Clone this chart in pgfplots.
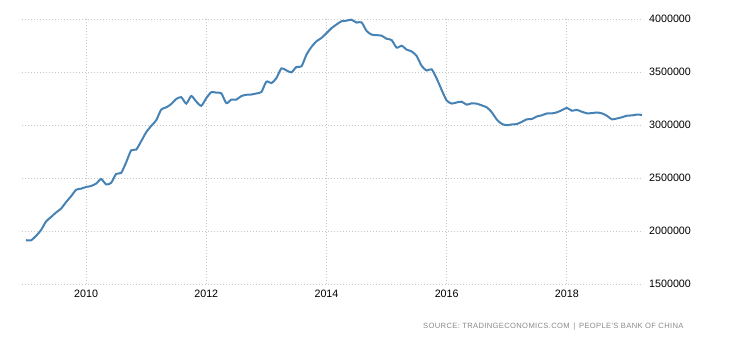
\documentclass[border=0pt]{standalone}
\usepackage{pgfplots}
\pgfplotsset{compat=1.18}
\usepackage{pgfplotstable}
\usepackage{fontspec}
\setmainfont{Liberation Sans}
\newfontfamily\srcfont[LetterSpace=4.5]{Liberation Sans}
\definecolor{lineblue}{HTML}{4682B4}
\definecolor{gridgray}{HTML}{C8C8C8}
\definecolor{srcgray}{HTML}{8A8A8A}
% month index: 0 = Jan 2009
\pgfplotstableread{
idx val
0 1913456
1 1912060
2 1953741
3 2008841
4 2089492
5 2131606
6 2174956
7 2210829
8 2272595
9 2327720
10 2388838
11 2399152
12 2415221
13 2424590
14 2447084
15 2490476
16 2439540
17 2454275
18 2538579
19 2547803
20 2648303
21 2760900
22 2767836
23 2847338
24 2931674
25 2991380
26 3044671
27 3145716
28 3166211
29 3197491
30 3245283
31 3262505
32 3201683
33 3273786
34 3220982
35 3181148
36 3253647
37 3309484
38 3304971
39 3298966
40 3206092
41 3240005
42 3239772
43 3272958
44 3285075
45 3287437
46 3297624
47 3311589
48 3409517
49 3395422
50 3442649
51 3534486
52 3514804
53 3496686
54 3547781
55 3553043
56 3662662
57 3736654
58 3789533
59 3821315
60 3866393
61 3913739
62 3948097
63 3978835
64 3983890
65 3993213
66 3966256
67 3968839
68 3887700
69 3852919
70 3847358
71 3843018
72 3813414
73 3801503
74 3730038
75 3748181
76 3711130
77 3693838
78 3651310
79 3557381
80 3514120
81 3525507
82 3438356
83 3330362
84 3230890
85 3202321
86 3212580
87 3219668
88 3191736
89 3205162
90 3201057
91 3185167
92 3166382
93 3120655
94 3051598
95 3010517
96 2998204
97 3005124
98 3009088
99 3029533
100 3053567
101 3056789
102 3080720
103 3091527
104 3108510
105 3109213
106 3119282
107 3139949
108 3161462
109 3134482
110 3142822
111 3124851
112 3110621
113 3112129
114 3117945
115 3109716
116 3087025
117 3053098
118 3061695
119 3072712
120 3087924
121 3090180
122 3098763
123 3094953
}\reserves
\begin{document}
\begin{tikzpicture}
\path[use as bounding box] (0,0) rectangle (730bp,340bp);
\begin{axis}[
  at={(22bp,56bp)}, anchor=south west,
  width=621bp, height=265bp, scale only axis,
  xmin=-0.8, xmax=123.2,
  ymin=1500000, ymax=4000000,
  xtick={12,36,60,84,108},
  xticklabels={2010,2012,2014,2016,2018},
  ytick={1500000,2000000,2500000,3000000,3500000,4000000},
  yticklabels={1500000,2000000,2500000,3000000,3500000,4000000},
  yticklabel pos=right,
  scaled y ticks=false,
  axis line style={draw=none},
  major tick length=0pt,
  tick style={draw=none},
  grid=major,
  major grid style={gridgray, line width=0.8bp, dash pattern=on 1bp off 2bp},
  ticklabel style={font=\fontsize{10.7bp}{12bp}\selectfont, text=black},
  xticklabel style={inner sep=0pt, anchor=north, yshift=-6bp},
  yticklabel style={inner sep=0pt, anchor=west, xshift=6bp},
  clip=false,
]
\addplot[lineblue, line width=2bp, smooth, tension=0.4] table[x=idx, y=val] {\reserves};
\end{axis}
\node[anchor=base west, inner sep=0pt, text=srcgray, font=\srcfont\fontsize{7.6bp}{9bp}\selectfont] at (423bp,12bp) {SOURCE: TRADINGECONOMICS.COM \,|\, PEOPLE'S BANK OF CHINA};
\end{tikzpicture}
\end{document}
